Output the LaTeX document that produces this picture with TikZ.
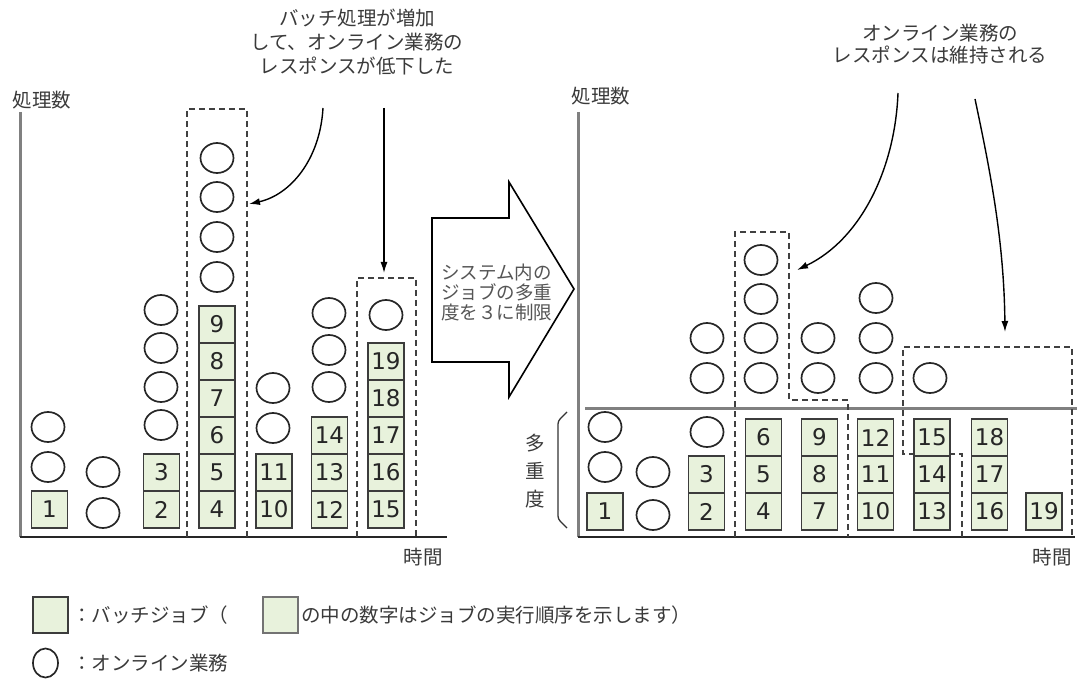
\documentclass[tikz,border=0pt]{standalone}
\usepackage{fontspec}
\setmainfont{DejaVu Sans}
\newfontfamily\jp{Noto Sans CJK JP}
\usetikzlibrary{shapes.geometric,arrows.meta}
\definecolor{jobfill}{HTML}{E8F2DC}
\definecolor{jobedge}{HTML}{3C3C3C}
\definecolor{txt}{HTML}{3A3A3A}
\definecolor{txtlight}{HTML}{555555}
\tikzset{
  job/.style={draw=jobedge, line width=1.8pt, fill=jobfill, minimum width=36pt, minimum height=37pt, inner sep=0pt, font=\fontsize{23}{23}\selectfont, text=black!85},
  online/.style={ellipse, draw=black!85, line width=1.7pt, minimum width=33pt, minimum height=30pt, inner sep=0pt},
  grp/.style={draw=black!75, line width=1.6pt, dash pattern=on 6pt off 4pt},
  yaxis/.style={draw=gray, line width=3pt},
  xaxis/.style={draw=black!85, line width=1.8pt},
  limitline/.style={draw=gray, line width=3pt},
  callout/.style={draw=black, line width=1.4pt, -{Latex[length=11pt,width=7pt]}},
  lbl/.style={font=\jp\fontsize{19.5}{24}\selectfont, text=txt, align=center, inner sep=0pt},
  bigarrow/.style={draw=black, line width=1.6pt, fill=white, line join=miter},
}
\begin{document}
\begin{tikzpicture}[x=1pt, y=-1pt]
\useasboundingbox (0,0) rectangle (1077,679);

% ---------- left chart ----------
\coordinate (LO) at (20,537);
\coordinate (LYtop) at (20,112);
\coordinate (LXend) at (447,537);
\draw[yaxis] (LYtop) -- (LO);
\draw[xaxis] (LO) -- (LXend);
\node[lbl] (Lylabel) at (42,100) {処理数};
\node[lbl] (Lxlabel) at (423,557) {時間};

% dashed groups (left)
\draw[grp] (187,537) -- (187,109) -- (247,109) -- (247,537);
\draw[grp] (357,537) -- (357,278) -- (416,278) -- (416,537);

% batch jobs (left)
\foreach \n/\x/\k in {1/49.5/1, 2/161.5/1, 3/161.5/2,
  4/217/1, 5/217/2, 6/217/3, 7/217/4, 8/217/5, 9/217/6,
  10/274/1, 11/274/2, 12/329.5/1, 13/329.5/2, 14/329.5/3,
  15/386/1, 16/386/2, 17/386/3, 18/386/4, 19/386/5}
  \node[job] (Lj\n) at ({\x},{546.5-37*\k}) {\n};

% online tasks (left)
\foreach \i/\x/\y in {1/48/427, 2/48/467, 3/103/472, 4/103/513,
  5/161/310, 6/161/348, 7/161/387, 8/161/425,
  9/217/158, 10/217/197, 11/217/237, 12/217/277,
  13/273/388, 14/273/428, 15/329/313, 16/329/350, 17/329/387,
  18/386/315}
  \node[online] (Lc\i) at (\x,\y) {};

% note + callouts (left)
\node[lbl] (note1) at (357,42) {バッチ処理が増加\\して、オンライン業務の\\レスポンスが低下した};
\coordinate (n1a) at (323,108);
\coordinate (n1aend) at (249,204);
\coordinate (n1b) at (384,108);
\coordinate (n1bend) at (384,273);
\draw[callout] (n1a) .. controls (320,160) and (290,195) .. (n1aend);
\draw[callout] (n1b) -- (n1bend);

% ---------- big arrow ----------
\draw[bigarrow] (432,218) -- (509,218) -- (509,182) -- (574,289) -- (509,397) -- (509,362) -- (432,362) -- cycle;
\node[lbl, align=left, anchor=west, text=txtlight, font=\jp\fontsize{18.5}{20}\selectfont] (limit) at (441,292) {システム内の\\ジョブの多重\\度を３に制限};

% ---------- right chart ----------
\coordinate (RO) at (578,537);
\coordinate (RYtop) at (578,112);
\coordinate (RXend) at (1075,537);
\coordinate (ML1) at (585,408);
\coordinate (ML2) at (1077,408);
\draw[yaxis] (RYtop) -- (RO);
\draw[xaxis] (RO) -- (RXend);
\draw[limitline] (ML1) -- (ML2);
\node[lbl] (Rylabel) at (601,96) {処理数};
\node[lbl] (Rxlabel) at (1052,557) {時間};

% multiplicity brace + label
\draw[line width=1.3pt, black!80, rounded corners=3pt] (567,412) -- (558,421) -- (558,519) -- (567,528);
\node[lbl, font=\jp\fontsize{19.5}{28}\selectfont] (mult) at (535,471) {多\\重\\度};

% dashed groups (right)
\draw[grp] (735,537) -- (735,232) -- (789,232) -- (789,400) -- (848,400) -- (848,537);
\draw[grp] (962,537) -- (962,454) -- (903,454) -- (903,347) -- (1072,347) -- (1072,537);

% batch jobs (right)
\foreach \n/\x/\k in {1/605/1, 2/706.5/1, 3/706.5/2,
  4/763.5/1, 5/763.5/2, 6/763.5/3, 7/819.5/1, 8/819.5/2, 9/819.5/3,
  10/875.5/1, 11/875.5/2, 12/875.5/3, 13/932/1, 14/932/2, 15/932/3,
  16/989.5/1, 17/989.5/2, 18/989.5/3, 19/1044/1}
  \node[job] (Rj\n) at ({\x},{548.5-37*\k}) {\n};

% online tasks (right)
\foreach \i/\x/\y in {1/605/427, 2/605/467, 3/653/472, 4/653/515,
  5/707/338, 6/707/378, 7/707/432,
  8/761/260, 9/761/299, 10/761/338, 11/761/378,
  12/818/338, 13/818/378, 14/876/298, 15/876/338, 16/876/378,
  17/930/378}
  \node[online] (Rc\i) at (\x,\y) {};

% note + callouts (right)
\node[lbl, font=\jp\fontsize{19.5}{22}\selectfont] (note2) at (940,44) {オンライン業務の\\レスポンスは維持される};
\coordinate (n2a) at (898,93);
\coordinate (n2aend) at (797,270);
\coordinate (n2b) at (975,99);
\coordinate (n2bend) at (1005,332);
\draw[callout] (n2a) .. controls (895,170) and (860,240) .. (n2aend);
\draw[callout] (n2b) .. controls (990,170) and (1004,240) .. (n2bend);

% ---------- legend ----------
\node[job, minimum width=35pt, minimum height=36pt] (legjob) at (50.5,615) {};
\node[lbl, anchor=west] (legjobtxt) at (72,615) {：バッチジョブ（};
\node[job, minimum width=35pt, minimum height=36pt, draw=gray!90!black, line width=2.4pt] (legjob2) at (280.5,615) {};
\node[lbl, anchor=west] (legjobtxt2) at (301,615) {の中の数字はジョブの実行順序を示します）};
\node[online, minimum width=25pt, minimum height=29pt] (legon) at (45.5,663) {};
\node[lbl, anchor=west] (legontxt) at (72,663) {：オンライン業務};
\end{tikzpicture}
\end{document}
